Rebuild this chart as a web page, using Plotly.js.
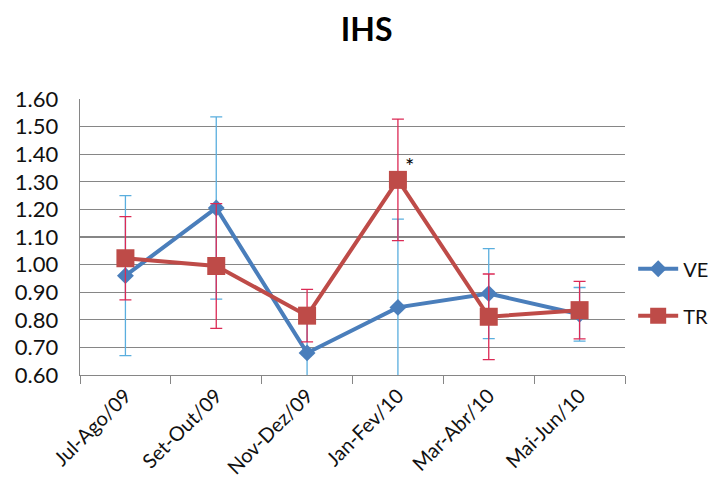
<!DOCTYPE html>
<html>
<head>
<meta charset="utf-8">
<script src="https://cdn.plot.ly/plotly-3.0.1.min.js"></script>
<style>html,body{margin:0;padding:0;background:#fff;}#chart{width:726px;height:495px;}</style>
</head>
<body>
<div id="chart"></div>
<script>
const categories = ["Jul-Ago/09", "Set-Out/09", "Nov-Dez/09", "Jan-Fev/10", "Mar-Abr/10", "Mai-Jun/10"];
const veValues = [0.96, 1.205, 0.68, 0.845, 0.895, 0.82];
const veErrors = [0.29, 0.33, 0.12, 0.32, 0.163, 0.097];
const trValues = [1.023, 0.995, 0.815, 1.307, 0.811, 0.835];
const trErrors = [0.151, 0.226, 0.095, 0.22, 0.155, 0.104];
const yTicks = [0.6, 0.7, 0.8, 0.9, 1.0, 1.1, 1.2, 1.3, 1.4, 1.5, 1.6];

const font = "Lato, 'Open Sans', sans-serif";

const traces = [
  {
    x: categories, y: veValues, name: "VE", type: "scatter", mode: "lines+markers", legendgroup: "ve",
    line: {color: "#4a7ebb", width: 4},
    marker: {symbol: "diamond", size: 13, color: "#4a7ebb"},
    error_y: {type: "data", array: veErrors, visible: true, color: "#5aaede", thickness: 1.3, width: 6}
  },
  {
    x: categories, y: trValues, name: "TR", type: "scatter", mode: "lines+markers", legendgroup: "tr",
    line: {color: "#be4b48", width: 4},
    marker: {symbol: "square", size: 18, color: "#be4b48"},
    error_y: {type: "data", array: trErrors, visible: true, color: "#dc2a55", thickness: 1.3, width: 6}
  }
];

const layout = {
  width: 726, height: 495,
  margin: {l: 80, r: 99, t: 99, b: 120},
  paper_bgcolor: "#fff", plot_bgcolor: "#fff",
  title: {text: "<b>IHS</b>", font: {family: font, size: 32, color: "#000"}, x: 0.505, xanchor: "center", y: 0.94, yanchor: "middle"},
  font: {family: font, color: "#222"},
  showlegend: true,
  legend: {x: 1.015, y: 0.30, xanchor: "left", yanchor: "middle", font: {size: 20, color: "#111"}, tracegroupgap: 18, itemwidth: 40, bgcolor: "rgba(0,0,0,0)"},
  xaxis: {
    type: "category", tickangle: -45, tickfont: {size: 20, color: "#111"},
    showline: true, linecolor: "#868686", linewidth: 1.3,
    ticks: "outside", tickson: "boundaries", ticklen: 8, tickcolor: "#868686",
    showgrid: false, zeroline: false, range: [-0.5, 5.5]
  },
  yaxis: {
    range: [0.6, 1.6], tickvals: yTicks, tickformat: ".2f",
    tickfont: {size: 22, color: "#111"}, ticklabelstandoff: 16,
    showgrid: true, gridcolor: "#868686", gridwidth: 1.3,
    showline: true, linecolor: "#868686", linewidth: 1.3,
    ticks: "", zeroline: false
  },
  annotations: [
    {x: categories[3], y: trValues[3], xref: "x", yref: "y", text: "*", showarrow: false,
     xshift: 12, yshift: 14, font: {family: font, size: 22, color: "#000"}}
  ]
};

Plotly.newPlot("chart", traces, layout, {displayModeBar: false, staticPlot: true});
</script>
</body>
</html>
